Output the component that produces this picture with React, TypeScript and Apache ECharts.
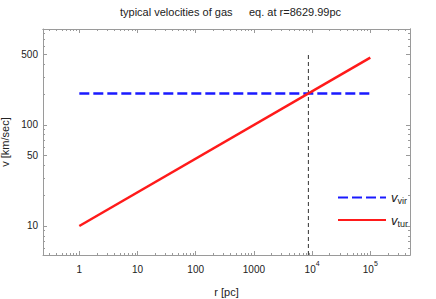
import React, { useEffect, useRef } from "react";
import * as echarts from "echarts";

const titleLeft = "typical velocities of gas";
const titleRight = "eq. at r=8629.99pc";
const eqRadius = 8629.99;

const virR = [1, 100000];
const virV = [205, 205];
const turR = [1, 100000];
const turV = [10, 464];
const eqLineV = [5.16, 528];

const xMajor = [1, 10, 100, 1000, 10000, 100000];
const xMinor = [
  0.3, 0.4, 0.5, 0.6, 0.7, 0.8, 0.9,
  2, 3, 4, 5, 6, 7, 8, 9,
  20, 30, 40, 50, 60, 70, 80, 90,
  200, 300, 400, 500, 600, 700, 800, 900,
  2000, 3000, 4000, 5000, 6000, 7000, 8000, 9000,
  20000, 30000, 40000, 50000, 60000, 70000, 80000, 90000,
  200000, 300000, 400000,
];
const yMajor = [10, 50, 100, 500];
const yMinor = [6, 7, 8, 9, 20, 30, 40, 60, 70, 80, 90, 200, 300, 400, 600, 700, 800];

const X_MIN = 0.2377;
const X_MAX = 481000;
const Y_MIN = 5.16;
const Y_MAX = 891;

const FRAME = "#9a9a9a";
const TXT = "#222";
const FONT = "'Liberation Sans', Arial, sans-serif";

export default function App() {
  const ref = useRef<HTMLDivElement>(null);
  useEffect(() => {
    if (!ref.current) return;
    const chart = echarts.init(ref.current, undefined, { renderer: "svg" });

    const xFmt = (v: number) => {
      const e = Math.round(Math.log10(v));
      if (e >= 4) return "{b|10}{sup|" + e + "}";
      return "{b|" + String(Math.round(v)) + "}";
    };

    const mkX = (pos: "bottom" | "top", major: boolean, main: boolean) => ({
      type: "log",
      logBase: 10,
      gridIndex: 0,
      position: pos,
      min: X_MIN,
      max: X_MAX,
      name: main ? "r [pc]" : "",
      nameLocation: "middle",
      nameGap: 31,
      nameTextStyle: { fontSize: 11, color: TXT, fontFamily: FONT },
      axisLine: { show: main || pos === "top", onZero: false, lineStyle: { color: FRAME, width: 1 } },
      axisTick: {
        show: true,
        inside: true,
        length: major ? 4 : 2,
        customValues: major ? xMajor : xMinor,
        lineStyle: { color: FRAME, width: 1 },
      },
      axisLabel: main
        ? {
            show: true,
            customValues: xMajor,
            margin: 5,
            formatter: xFmt,
            rich: {
              b: { fontSize: 10, color: TXT, fontFamily: FONT, lineHeight: 14, verticalAlign: "bottom" },
              sup: { fontSize: 7, color: TXT, fontFamily: FONT, lineHeight: 14, verticalAlign: "top" },
            },
          }
        : { show: false },
      splitLine: { show: false },
      minorTick: { show: false },
    });

    const mkY = (pos: "left" | "right", major: boolean, main: boolean) => ({
      type: "log",
      logBase: 10,
      gridIndex: 0,
      position: pos,
      min: Y_MIN,
      max: Y_MAX,
      name: main ? "v [km/sec]" : "",
      nameLocation: "middle",
      nameGap: 24,
      nameTextStyle: { fontSize: 11, color: TXT, fontFamily: FONT },
      axisLine: { show: main || pos === "right", onZero: false, lineStyle: { color: FRAME, width: 1 } },
      axisTick: {
        show: true,
        inside: true,
        length: major ? 4 : 2,
        customValues: major ? yMajor : yMinor,
        lineStyle: { color: FRAME, width: 1 },
      },
      axisLabel: main
        ? {
            show: true,
            customValues: yMajor,
            margin: 5,
            fontSize: 10,
            color: TXT,
            fontFamily: FONT,
            formatter: (v: number) => String(Math.round(v)),
          }
        : { show: false },
      splitLine: { show: false },
      minorTick: { show: false },
    });

    const legendRich = {
      i: { fontSize: 13, fontStyle: "italic", color: TXT, fontFamily: FONT, lineHeight: 16, verticalAlign: "middle" },
      s: { fontSize: 9, color: TXT, fontFamily: FONT, lineHeight: 16, verticalAlign: "bottom" },
    };

    chart.setOption({
      animation: false,
      backgroundColor: "#fff",
      title: [
        { text: titleLeft, left: 115, top: 1, textStyle: { fontSize: 11, fontWeight: "normal", color: TXT, fontFamily: FONT } },
        { text: titleRight, left: 244, top: 1, textStyle: { fontSize: 11, fontWeight: "normal", color: TXT, fontFamily: FONT } },
      ],
      grid: { left: 43, right: 26, top: 29, bottom: 44, containLabel: false, outerBoundsMode: "none" },
      xAxis: [mkX("bottom", true, true), mkX("bottom", false, false), mkX("top", true, false), mkX("top", false, false)],
      yAxis: [mkY("left", true, true), mkY("left", false, false), mkY("right", true, false), mkY("right", false, false)],
      legend: {
        orient: "vertical",
        left: 337,
        top: 191,
        padding: 0,
        itemWidth: 48,
        itemHeight: 10,
        itemGap: 8,
        data: ["vir", "tur"],
        itemStyle: { opacity: 0 },
        formatter: (n: string) => "{i|v}{s|" + n + "}",
        textStyle: { rich: legendRich },
      },
      series: [
        {
          name: "eq",
          type: "line",
          xAxisIndex: 0,
          yAxisIndex: 0,
          data: eqLineV.map((v) => [eqRadius, v]),
          symbol: "none",
          lineStyle: { color: "#333", width: 1, type: [4, 3] },
          silent: true,
          z: 1,
        },
        {
          name: "vir",
          type: "line",
          xAxisIndex: 0,
          yAxisIndex: 0,
          data: virR.map((r, i) => [r, virV[i]]),
          symbol: "none",
          color: "#1a1aff",
          lineStyle: { color: "#1a1aff", width: 2.5, type: [10, 4] },
          z: 2,
        },
        {
          name: "tur",
          type: "line",
          xAxisIndex: 0,
          yAxisIndex: 0,
          data: turR.map((r, i) => [r, turV[i]]),
          symbol: "none",
          color: "#ff1a1a",
          lineStyle: { color: "#ff1a1a", width: 2.5 },
          z: 3,
        },
      ],
    });
    return () => chart.dispose();
  }, []);
  return <div ref={ref} style={{ position: "fixed", left: 0, top: 0, width: 436, height: 299 }} />;
}
